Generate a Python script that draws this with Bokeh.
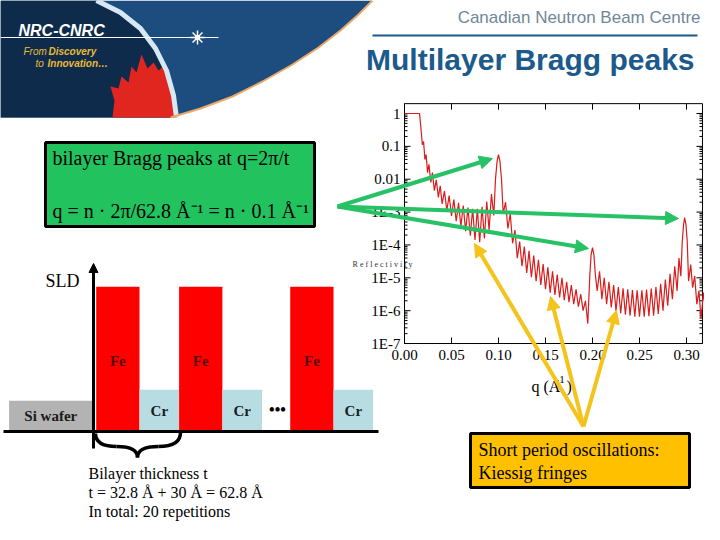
import numpy as np
from bokeh.plotting import figure
from bokeh.models import Range1d, Arrow, NormalHead
from bokeh.core.properties import value
from bokeh.embed import file_html
from bokeh.resources import INLINE

# ---------------- data ----------------
# reflectivity curve (q in 1/A, log10 of reflectivity)
q_refl = [0.000, 0.016, 0.0175, 0.019, 0.0203, 0.0217, 0.023, 0.0245, 0.026, 0.028,
          0.0297, 0.0318, 0.0338, 0.0360, 0.0380, 0.0400, 0.0425, 0.0450, 0.0475, 0.0500,
          0.0525, 0.0550, 0.0575, 0.0600, 0.0625, 0.0650, 0.0675, 0.0700, 0.0725, 0.0750,
          0.0775, 0.0800, 0.0825, 0.0850, 0.0875, 0.0900, 0.0925, 0.0950,
          0.0968, 0.0985, 0.1000, 0.1015, 0.1032,
          0.1050, 0.1075, 0.1100, 0.1125, 0.1150, 0.1175, 0.1200, 0.1225, 0.1250,
          0.1275, 0.1300, 0.1325, 0.1350, 0.1375, 0.1400, 0.1425, 0.1450, 0.1475, 0.1500,
          0.1525, 0.1550, 0.1575, 0.1600, 0.1625, 0.1650, 0.1675, 0.1700, 0.1725, 0.1750,
          0.1775, 0.1800, 0.1825, 0.1850, 0.1875, 0.1900, 0.1925, 0.1950,
          0.1972, 0.1985, 0.2000, 0.2015, 0.2030,
          0.2050, 0.2075, 0.2100, 0.2125, 0.2150, 0.2175, 0.2200, 0.2225, 0.2250,
          0.2275, 0.2300, 0.2325, 0.2350, 0.2375, 0.2400, 0.2425, 0.2450, 0.2475, 0.2500,
          0.2525, 0.2550, 0.2575, 0.2600, 0.2625, 0.2650, 0.2675, 0.2700, 0.2725, 0.2750,
          0.2775, 0.2800, 0.2825, 0.2850, 0.2875, 0.2900, 0.2920, 0.2940,
          0.2955, 0.2968, 0.2980, 0.2995, 0.3008,
          0.3022, 0.3045, 0.3065, 0.3087, 0.3110, 0.3132, 0.3155, 0.3180, 0.3200]
log_refl = [0.00, 0.00, -0.45, -0.95, -0.85, -1.40, -1.25, -1.80, -1.55, -2.10,
            -1.80, -2.35, -2.02, -2.55, -2.20, -2.75, -2.36, -2.95, -2.50, -3.12,
            -2.62, -3.28, -2.72, -3.44, -2.80, -3.58, -2.86, -3.72, -2.90, -3.85,
            -2.90, -3.92, -2.84, -3.80, -2.68, -3.55, -2.45, -3.10,
            -2.00, -1.45, -1.25, -1.45, -2.00,
            -3.05, -2.70, -3.50, -3.05, -3.95, -3.55, -4.40, -3.90, -4.65,
            -4.05, -4.85, -4.18, -4.98, -4.32, -5.10, -4.45, -5.22, -4.58, -5.35,
            -4.68, -5.45, -4.80, -5.52, -4.90, -5.60, -5.00, -5.68, -5.12, -5.74,
            -5.22, -5.80, -5.35, -5.88, -5.50, -6.00, -5.70, -6.40,
            -4.90, -4.30, -4.08, -4.30, -4.90,
            -5.40, -4.80, -5.65, -5.00, -5.80, -5.12, -5.90, -5.22, -6.00,
            -5.28, -6.08, -5.32, -6.12, -5.35, -6.15, -5.37, -6.18, -5.38, -6.18,
            -5.38, -6.18, -5.36, -6.17, -5.33, -6.15, -5.28, -6.10, -5.18, -6.00,
            -5.05, -5.85, -4.88, -5.65, -4.65, -5.40, -4.40, -4.95,
            -3.90, -3.40, -3.17, -3.40, -3.90,
            -5.10, -4.60, -5.30, -4.95, -5.80, -5.40, -6.25, -5.45, -5.90]

x_ticks = [0.00, 0.05, 0.10, 0.15, 0.20, 0.25, 0.30]
x_tick_labels = ["0.00", "0.05", "0.10", "0.15", "0.20", "0.25", "0.30"]
y_ticks = [0, -1, -2, -3, -4, -5, -6, -7]
y_tick_labels = ["1", "0.1", "0.01", "1E-3", "1E-4", "1E-5", "1E-6", "1E-7"]

# SLD profile sketch: layer name, left/right depth (A, schematic), SLD (arb.)
layer_names = ["Si wafer", "Fe", "Cr", "Fe", "Cr", "Fe", "Cr"]
layer_left = [-66.0, 0.0, 32.8, 62.8, 95.6, 147.0, 179.8]
layer_right = [-2.8, 32.8, 62.8, 95.6, 125.6, 179.8, 209.8]
layer_sld = [1.7, 8.0, 2.3, 8.0, 2.3, 8.0, 2.3]

# ---------------- layout constants (page pixels) ----------------
W, H = 704, 524
PX0, PY0 = 0, 0                 # slide coordinate at the canvas' top-left corner
Q0_PX, Q_SCALE = 404.0, 940.0   # slide x of q=0, px per 1/A
L0_PX, L_SCALE = 113.0, 32.86   # slide y of R=1, px per decade
Q_MAX, L_TOP = 0.317, 0.30
D0_PX, D_SCALE = 95.7, 1.32     # SLD sketch: slide x of depth 0, px per A
S0_PX, S_SCALE = 431.0, 18.1    # SLD sketch: slide y of SLD 0, px per unit

p = figure(width=W, height=H, x_range=Range1d(PX0, PX0 + W), y_range=Range1d(PY0 + H, PY0),
           x_axis_type=None, y_axis_type=None, toolbar_location=None,
           output_backend="svg", min_border=0, outline_line_color=None)
p.extra_x_ranges = {
    "q": Range1d((PX0 - Q0_PX) / Q_SCALE, (PX0 + W - Q0_PX) / Q_SCALE),
    "d": Range1d((PX0 - D0_PX) / D_SCALE, (PX0 + W - D0_PX) / D_SCALE),
}
p.extra_y_ranges = {
    "lr": Range1d((L0_PX - (PY0 + H)) / L_SCALE, (L0_PX - PY0) / L_SCALE),
    "s": Range1d((S0_PX - (PY0 + H)) / S_SCALE, (S0_PX - PY0) / S_SCALE),
}

SERIF = value("Liberation Serif")
SANS = value("Liberation Sans")


def txt(x, y, s, size, color="black", font=SERIF, style="normal", align="left",
        baseline="middle", xr="default", yr="default"):
    p.text(x=[x], y=[y], text=[s], text_font=font, text_font_size=size,
           text_color=color, text_font_style=style, text_align=align,
           text_baseline=baseline, x_range_name=xr, y_range_name=yr)


# ---------------- header banner ----------------
navy = [(0, 0), (372, 0), (358, 14), (340, 30), (318, 47), (292, 64), (262, 81),
        (232, 96), (200, 108), (170, 117), (0, 117)]
p.patch([a for a, b in navy], [b for a, b in navy], fill_color="#1c4d7e", line_color=None)
dark = [(0, 0), (96, 0), (120, 12), (140, 28), (155, 48), (166, 70), (173, 95),
        (176, 117), (0, 117)]
p.patch([a for a, b in dark], [b for a, b in dark], fill_color="#0e2b4c", line_color=None)
leaf = [(112, 117), (114, 100), (110, 86), (118, 88), (121, 76), (128, 82), (131, 66),
        (136, 72), (141, 54), (147, 68), (153, 62), (158, 70), (165, 64), (170, 80),
        (176, 117)]
p.patch([a for a, b in leaf], [b for a, b in leaf], fill_color="#e0261f", line_color=None)
arc = [(96, 0), (120, 12), (140, 28), (155, 48), (166, 70), (173, 95), (176, 117)]
p.line([a for a, b in arc], [b for a, b in arc], line_color="#d7e8f5", line_width=5)
edge = [(372, 0), (358, 14), (340, 30), (318, 47), (292, 64), (262, 81), (232, 96),
        (200, 108), (170, 117)]
p.line([a for a, b in edge], [b for a, b in edge], line_color="#e9a86a", line_width=2)
p.segment(x0=[0], y0=[37], x1=[218], y1=[37], line_color="white", line_width=1)
p.scatter(x=[197], y=[37], marker="asterisk", size=14, line_color="white", line_width=1.5)
p.scatter(x=[197], y=[37], marker="circle", size=5, fill_color="white", line_color=None)
txt(18, 30, "NRC-CNRC", "16px", "white", SANS, "bold italic")
txt(23, 51, "From", "10px", "#e9bb35", SANS, "italic")
txt(48, 51, "Discovery", "10px", "#e9bb35", SANS, "bold italic")
txt(35, 63, "to", "10px", "#e9bb35", SANS, "italic")
txt(47, 63, "Innovation…", "10px", "#e9bb35", SANS, "bold italic")

# ---------------- titles ----------------
txt(700, 17, "Canadian Neutron Beam Centre", "17px", "#6f8799", SANS, align="right")
p.segment(x0=[372], y0=[35], x1=[697], y1=[35], line_color="#1d5a88", line_width=2)
txt(694, 59, "Multilayer Bragg peaks", "30px", "#1b5a8b", SANS, "bold", align="right")

# ---------------- reflectivity inset ----------------
p.quad(left=[0], right=[Q_MAX], bottom=[-7], top=[L_TOP], fill_color=None,
       line_color="black", line_width=1, x_range_name="q", y_range_name="lr")
maj_q, min_q = 6 / Q_SCALE, 3 / Q_SCALE
maj_l = 6 / L_SCALE
yt_x0, yt_x1, yt_y = [], [], []
for t in y_ticks:
    yt_x0 += [0, Q_MAX]
    yt_x1 += [maj_q, Q_MAX - maj_q]
    yt_y += [t, t]
for t in y_ticks[1:]:
    for k in range(2, 10):
        yy = t + np.log10(k)
        yt_x0 += [0, Q_MAX]
        yt_x1 += [min_q, Q_MAX - min_q]
        yt_y += [yy, yy]
p.segment(x0=yt_x0, y0=yt_y, x1=yt_x1, y1=yt_y, line_color="black", line_width=1,
          x_range_name="q", y_range_name="lr")
xt_x, xt_y0, xt_y1 = [], [], []
for t in x_ticks:
    xt_x += [t, t]
    xt_y0 += [-7, L_TOP]
    xt_y1 += [-7 + maj_l, L_TOP - maj_l]
p.segment(x0=xt_x, y0=xt_y0, x1=xt_x, y1=xt_y1, line_color="black", line_width=1,
          x_range_name="q", y_range_name="lr")
p.text(x=[-4 / Q_SCALE] * len(y_ticks), y=y_ticks, text=y_tick_labels, text_font=SERIF,
       text_font_size="15px", text_align="right", text_baseline="middle",
       x_range_name="q", y_range_name="lr")
p.text(x=x_ticks, y=[-7 - 11 / L_SCALE] * len(x_ticks), text=x_tick_labels, text_font=SERIF,
       text_font_size="15px", text_align="center", text_baseline="middle",
       x_range_name="q", y_range_name="lr")
p.line(q_refl, log_refl, line_color="#d91c1c", line_width=1.2,
       x_range_name="q", y_range_name="lr")
txt(382, 264, "R e f l e c t i v i t y", "8px", "#333333", SERIF, align="center")
txt(531, 386, "q (A", "16px")
txt(555, 379, "-1", "11px")
txt(566, 386, ")", "16px")

# ---------------- SLD sketch ----------------
colors = {"Si wafer": "#b3b3b3", "Fe": "#ff0000", "Cr": "#b7dde3"}
label_s = {"Si wafer": 0.85, "Fe": 3.9, "Cr": 1.15}
label_c = {"Si wafer": "#1a1a1a", "Fe": "#5a0a0a", "Cr": "#1a1a2a"}
p.quad(left=layer_left, right=layer_right, bottom=[0] * len(layer_sld), top=layer_sld,
       fill_color=[colors[n] for n in layer_names], line_color=None,
       x_range_name="d", y_range_name="s")
p.text(x=[(a + b) / 2 for a, b in zip(layer_left, layer_right)],
       y=[label_s[n] for n in layer_names], text=layer_names, text_font=SERIF,
       text_font_size="15px", text_font_style="bold",
       text_color=[label_c[n] for n in layer_names], text_align="center",
       text_baseline="middle", x_range_name="d", y_range_name="s")
p.segment(x0=[3], y0=[431], x1=[378], y1=[431], line_color="black", line_width=3)
p.add_layout(Arrow(x_start=93, y_start=448, x_end=93, y_end=263, line_color="black",
                   line_width=3, end=NormalHead(size=9, fill_color="black", line_color="black")))
txt(45, 280, "SLD", "18px")
txt(277, 409, "•••", "16px", style="bold", align="center")
# brace
p.quadratic(x0=[95, 116, 137, 158], y0=[433, 446, 457, 446],
            x1=[116, 137, 158, 180], y1=[446, 457, 446, 432],
            cx=[95, 137, 137, 180], cy=[446, 446, 446, 446],
            line_color="black", line_width=3.5)
txt(88, 473, "Bilayer thickness t", "16px")
txt(88, 492, "t = 32.8 Å + 30 Å = 62.8 Å", "16px")
txt(88, 511, "In total: 20 repetitions", "16px")

# ---------------- annotation boxes ----------------
p.quad(left=[45], right=[314], top=[142], bottom=[226], fill_color="#22c35e",
       line_color="black", line_width=3)
txt(52, 157, "bilayer Bragg peaks at q=2π/t", "20px")
txt(52, 210, "q = n · 2π/62.8 Å⁻¹ = n · 0.1 Å⁻¹", "20px")

p.quad(left=[470], right=[689], top=[433], bottom=[487], fill_color="#ffc000",
       line_color="black", line_width=3)
txt(478, 449, "Short period oscillations:", "18px")
txt(478, 472, "Kiessig fringes", "18px")

GREEN, YELLOW = "#27c266", "#f4c31c"
for xe, ye in [(492, 158), (678, 218), (588, 248)]:
    p.add_layout(Arrow(x_start=337, y_start=206, x_end=xe, y_end=ye, line_color=GREEN,
                       line_width=4, end=NormalHead(size=13, fill_color=GREEN, line_color=GREEN)))
for xe, ye in [(474, 243), (550, 296), (616, 310)]:
    p.add_layout(Arrow(x_start=583, y_start=426, x_end=xe, y_end=ye, line_color=YELLOW,
                       line_width=4, end=NormalHead(size=13, fill_color=YELLOW, line_color=YELLOW)))

open("out.html", "w").write(file_html(p, INLINE))
